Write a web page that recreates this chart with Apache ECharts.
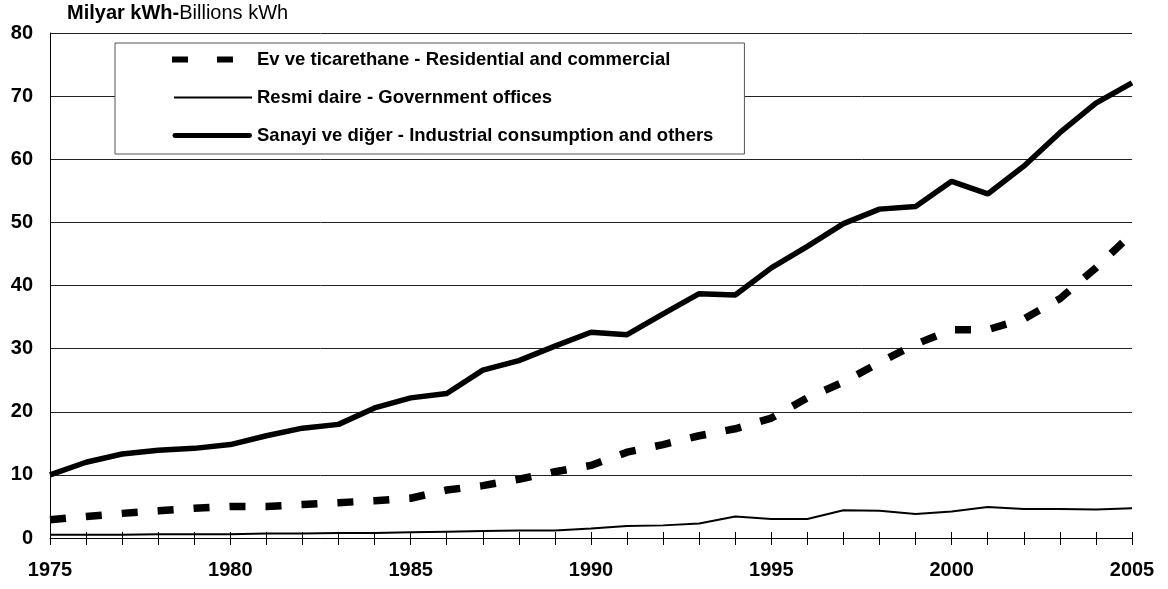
<!DOCTYPE html>
<html>
<head>
<meta charset="utf-8">
<script src="https://cdn.jsdelivr.net/npm/echarts@6/dist/echarts.min.js"></script>
<style>
  html, body { margin: 0; padding: 0; background: #fff; }
  #main { width: 1168px; height: 589px; }
</style>
</head>
<body>
<div id="main"></div>
<script>
// years on the x axis
var years = [];
for (var y = 1975; y <= 2005; y++) years.push(String(y));

// Ev ve ticarethane - Residential and commercial
var residential = [2.9, 3.4, 3.9, 4.3, 4.7, 5.0, 5.0, 5.3, 5.6, 5.9,
    6.3, 7.6, 8.3, 9.3, 10.5, 11.5, 13.6, 14.8, 16.2, 17.3,
    19.0, 22.2, 24.7, 27.8, 30.7, 33.0, 33.0, 34.7, 37.9, 42.8, 48.2];

// Resmi daire - Government offices
var government = [0.5, 0.5, 0.5, 0.6, 0.6, 0.6, 0.7, 0.7, 0.8, 0.8,
    0.9, 1.0, 1.1, 1.2, 1.2, 1.5, 1.9, 2.0, 2.3, 3.4,
    3.0, 3.0, 4.4, 4.3, 3.8, 4.2, 4.9, 4.6, 4.6, 4.5, 4.7];

// Sanayi ve diğer - Industrial consumption and others
var industrial = [10.0, 12.0, 13.3, 13.9, 14.2, 14.8, 16.2, 17.4, 18.0, 20.6,
    22.2, 22.9, 26.6, 28.1, 30.4, 32.6, 32.2, 35.5, 38.7, 38.5,
    42.8, 46.2, 49.8, 52.1, 52.5, 56.5, 54.5, 58.9, 64.2, 68.9, 72.1];

var seriesNames = [
    'Ev ve ticarethane - Residential and commercial',
    'Resmi daire - Government offices',
    'Sanayi ve diğer - Industrial consumption and others'
];

var yTicks = [0, 10, 20, 30, 40, 50, 60, 70, 80];

var fontFam = 'Arial, "Liberation Sans", sans-serif';

// legend icons, 80x14 box (the lone moves keep the box size)
var iconDash = 'path://M0,0M0,4h16v6h-16zM45,4h16v6h-16zM80,14';
var iconThin = 'path://M0,0M2,6h78v2h-78zM80,14';
var iconThick = 'path://M0,0M3,4.5h75a2.5,2.5 0 0 1 0,5h-75a2.5,2.5 0 0 1 0,-5zM80,14';

function drawChart() {
    var chart = echarts.init(document.getElementById('main'));
    var option = {
        animation: false,
        backgroundColor: '#fff',
        textStyle: { fontFamily: fontFam, color: '#000' },
        title: {
            text: '{b|Milyar kWh-}{n|Billions kWh}',
            left: 67,
            top: 3,
            padding: 0,
            textStyle: {
                rich: {
                    b: { fontWeight: 'bold', fontSize: 20, fontFamily: fontFam, color: '#000' },
                    n: { fontWeight: 'normal', fontSize: 20, fontFamily: fontFam, color: '#000' }
                }
            }
        },
        grid: { left: 50, right: 36, top: 33, bottom: 51, containLabel: false },
        legend: {
            orient: 'vertical',
            left: 115,
            top: 43,
            padding: [7, 31, 9, 57],
            itemWidth: 80,
            itemHeight: 14,
            itemGap: 19,
            backgroundColor: '#fff',
            borderColor: '#555',
            borderWidth: 1,
            textStyle: { fontFamily: fontFam, fontWeight: 'bold', fontSize: 18.5, color: '#000' },
            data: [
                { name: seriesNames[0], icon: iconDash, itemStyle: { color: '#000' } },
                { name: seriesNames[1], icon: iconThin, itemStyle: { color: '#000' } },
                { name: seriesNames[2], icon: iconThick, itemStyle: { color: '#000' } }
            ]
        },
        xAxis: [
            {
                type: 'category',
                data: years,
                boundaryGap: false,
                axisLine: { lineStyle: { color: '#000', width: 1 } },
                axisTick: { show: true, interval: 0, length: 7, lineStyle: { color: '#000' } },
                axisLabel: {
                    interval: 4,
                    margin: 22,
                    fontFamily: fontFam,
                    fontWeight: 'bold',
                    fontSize: 20,
                    color: '#000'
                },
                splitLine: { show: false }
            },
            {
                // second copy only for the tick marks above the axis line
                type: 'category',
                data: years,
                position: 'bottom',
                boundaryGap: false,
                axisLine: { show: false },
                axisTick: { show: true, inside: true, interval: 0, length: 6, lineStyle: { color: '#000' } },
                axisLabel: { show: false },
                splitLine: { show: false }
            }
        ],
        yAxis: {
            type: 'value',
            min: yTicks[0],
            max: yTicks[yTicks.length - 1],
            interval: 10,
            axisLine: { show: true, lineStyle: { color: '#000', width: 1 } },
            axisTick: { show: false },
            axisLabel: {
                margin: 17,
                fontFamily: fontFam,
                fontWeight: 'bold',
                fontSize: 20,
                color: '#000'
            },
            splitLine: { show: true, lineStyle: { color: '#222', width: 1 } }
        },
        series: [
            {
                name: seriesNames[0],
                type: 'line',
                data: residential,
                symbol: 'none',
                z: 3,
                lineStyle: { color: '#000', width: 7.5, type: [16, 20], cap: 'butt' },
                itemStyle: { color: '#000' }
            },
            {
                name: seriesNames[1],
                type: 'line',
                data: government,
                symbol: 'none',
                z: 2,
                lineStyle: { color: '#000', width: 2 },
                itemStyle: { color: '#000' }
            },
            {
                name: seriesNames[2],
                type: 'line',
                data: industrial,
                symbol: 'none',
                z: 4,
                lineStyle: { color: '#000', width: 5.5 },
                itemStyle: { color: '#000' }
            }
        ]
    };
    chart.setOption(option);
}
drawChart();
</script>
</body>
</html>
